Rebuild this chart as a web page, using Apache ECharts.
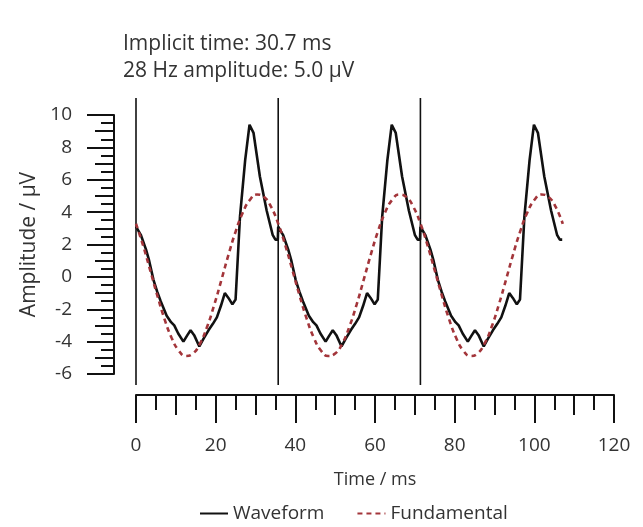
<!DOCTYPE html>
<html>
<head>
<meta charset="utf-8">
<script src="https://cdn.jsdelivr.net/npm/echarts@6/dist/echarts.min.js"></script>
<style>html,body{margin:0;padding:0;background:#fff;}#c{width:643px;height:527px;}</style>
</head>
<body>
<div id="c"></div>
<script>
// Titles
var titleLines = ['Implicit time: 30.7 ms', '28 Hz amplitude: 5.0 \u00b5V'];
var xName = 'Time / ms';
var yName = 'Amplitude / \u00b5V';
var seriesNames = ['Waveform', 'Fundamental'];

// Vertical period markers (ms)
var markerTimes = [0, 35.7, 71.4];

// Waveform [time ms, amplitude uV] — three tiled cycles
var waveform = [
  [0.0, 3.1], [1.2, 2.6], [2.5, 1.7], [3.3, 1.0], [4.4, -0.2], [5.3, -0.9], [6.2, -1.5], [7.7, -2.4], [8.8, -2.8], [9.6, -3.0], [10.6, -3.5], [11.9, -4.0], [12.9, -3.6], [13.7, -3.3], [14.6, -3.6], [15.9, -4.3], [17.0, -3.8], [18.2, -3.3], [19.3, -2.9], [20.3, -2.5], [21.3, -1.8], [22.3, -1.0], [23.2, -1.3], [24.2, -1.7], [25.0, -1.4], [26.1, 3.7], [27.4, 7.2], [28.5, 9.4], [29.5, 8.9], [31.1, 6.2], [32.8, 4.1], [34.3, 2.6], [35.0, 2.3], [35.6, 2.3],
  [35.7, 3.1], [36.9, 2.6], [38.2, 1.7], [39.0, 1.0], [40.1, -0.2], [41.0, -0.9], [41.9, -1.5], [43.4, -2.4], [44.5, -2.8], [45.3, -3.0], [46.3, -3.5], [47.6, -4.0], [48.6, -3.6], [49.4, -3.3], [50.3, -3.6], [51.6, -4.3], [52.7, -3.8], [53.9, -3.3], [55.0, -2.9], [56.0, -2.5], [57.0, -1.8], [58.0, -1.0], [58.9, -1.3], [59.9, -1.7], [60.7, -1.4], [61.8, 3.7], [63.1, 7.2], [64.2, 9.4], [65.2, 8.9], [66.8, 6.2], [68.5, 4.1], [70.0, 2.6], [70.7, 2.3], [71.3, 2.3],
  [71.4, 3.1], [72.6, 2.6], [73.9, 1.7], [74.7, 1.0], [75.8, -0.2], [76.7, -0.9], [77.6, -1.5], [79.1, -2.4], [80.2, -2.8], [81.0, -3.0], [82.0, -3.5], [83.3, -4.0], [84.3, -3.6], [85.1, -3.3], [86.0, -3.6], [87.3, -4.3], [88.4, -3.8], [89.6, -3.3], [90.7, -2.9], [91.7, -2.5], [92.7, -1.8], [93.7, -1.0], [94.6, -1.3], [95.6, -1.7], [96.4, -1.4], [97.5, 3.7], [98.8, 7.2], [99.9, 9.4], [100.9, 8.9], [102.5, 6.2], [104.2, 4.1], [105.7, 2.6], [106.4, 2.3], [107.0, 2.3]
];

// Fundamental (28 Hz component) [time ms, amplitude uV]
var fundamental = [
  [0.00, 3.28], [1.79, 1.93], [3.57, 0.40], [5.36, -1.16], [7.14, -2.59], [8.93, -3.76], [10.71, -4.55], [12.50, -4.89], [14.29, -4.74], [16.07, -4.12], [17.86, -3.08], [19.64, -1.73], [21.43, -0.20], [23.21, 1.36], [25.00, 2.79], [26.79, 3.96], [28.57, 4.75], [30.36, 5.09], [32.14, 4.94], [33.93, 4.32],
  [35.71, 3.28], [37.50, 1.93], [39.29, 0.40], [41.07, -1.16], [42.86, -2.59], [44.64, -3.76], [46.43, -4.55], [48.21, -4.89], [50.00, -4.74], [51.79, -4.12], [53.57, -3.08], [55.36, -1.73], [57.14, -0.20], [58.93, 1.36], [60.71, 2.79], [62.50, 3.96], [64.29, 4.75], [66.07, 5.09], [67.86, 4.94], [69.64, 4.32],
  [71.43, 3.28], [73.21, 1.93], [75.00, 0.40], [76.79, -1.16], [78.57, -2.59], [80.36, -3.76], [82.14, -4.55], [83.93, -4.89], [85.71, -4.74], [87.50, -4.12], [89.29, -3.08], [91.07, -1.73], [92.86, -0.20], [94.64, 1.36], [96.43, 2.79], [98.21, 3.96], [100.00, 4.75], [101.79, 5.09], [103.57, 4.94], [105.36, 4.32], [107.14, 3.28]
];

var FONT = 'Open Sans';
var TXT = '#333';
var AX = '#111';
var RED = '#a3353a';

var chart = echarts.init(document.getElementById('c'), null, {renderer: 'canvas'});

var markerSeries = markerTimes.map(function (t) {
  return {
    type: 'line', xAxisIndex: 2, yAxisIndex: 2, symbol: 'none', silent: true,
    lineStyle: {color: AX, width: 1.6}, data: [[t, 0], [t, 1]], z: 1
  };
});

chart.setOption({
  animation: false,
  backgroundColor: '#fff',
  textStyle: {fontFamily: FONT},
  title: {
    text: titleLines.join('\n'),
    left: 118, top: 26,
    textStyle: {fontFamily: FONT, fontSize: 21, fontWeight: 'normal', color: TXT, lineHeight: 27}
  },
  legend: {
    data: seriesNames,
    left: 194, top: 499,
    itemWidth: 28, itemHeight: 14, itemGap: 32,
    itemStyle: {color: 'transparent', borderWidth: 0},
    textStyle: {fontFamily: FONT, fontSize: 19, color: TXT}
  },
  grid: [
    {left: 136, right: 29, top: 115, height: 259},
    {left: 136, right: 29, top: 98, height: 287}
  ],
  xAxis: [
    {
      gridIndex: 0, type: 'value', min: 0, max: 120, interval: 20,
      position: 'bottom', offset: 21,
      name: xName, nameLocation: 'middle', nameGap: 76,
      nameTextStyle: {fontFamily: FONT, fontSize: 18, color: TXT},
      axisLine: {show: true, onZero: false, lineStyle: {color: AX, width: 2}},
      axisTick: {show: true, inside: false, length: 28, lineStyle: {color: AX, width: 2}},
      minorTick: {show: true, splitNumber: 4, length: 15, lineStyle: {color: AX, width: 2}},
      axisLabel: {fontFamily: FONT, fontSize: 19, color: TXT, margin: 41},
      splitLine: {show: false}, minorSplitLine: {show: false}
    },
    {
      gridIndex: 0, type: 'value', min: 0, max: 120, interval: 10,
      position: 'bottom', offset: 21,
      axisLine: {show: false, onZero: false},
      axisTick: {show: true, inside: false, length: 20, lineStyle: {color: AX, width: 2}},
      axisLabel: {show: false}, splitLine: {show: false}
    },
    {
      gridIndex: 1, type: 'value', min: 0, max: 120, show: false
    }
  ],
  yAxis: [
    {
      gridIndex: 0, type: 'value', min: -6, max: 10, interval: 2,
      position: 'left', offset: 22,
      name: yName, nameLocation: 'middle', nameGap: 74,
      nameTextStyle: {fontFamily: FONT, fontSize: 21, color: TXT},
      axisLine: {show: true, onZero: false, lineStyle: {color: AX, width: 2}},
      axisTick: {show: true, inside: false, length: 27, lineStyle: {color: AX, width: 2}},
      minorTick: {show: true, splitNumber: 4, length: 13, lineStyle: {color: AX, width: 2}},
      axisLabel: {fontFamily: FONT, fontSize: 19, color: TXT, margin: 42},
      splitLine: {show: false}, minorSplitLine: {show: false}
    },
    {
      gridIndex: 0, type: 'value', min: -6, max: 10, interval: 1,
      position: 'left', offset: 22,
      axisLine: {show: false, onZero: false},
      axisTick: {show: true, inside: false, length: 19, lineStyle: {color: AX, width: 2}},
      axisLabel: {show: false}, splitLine: {show: false}
    },
    {
      gridIndex: 1, type: 'value', min: 0, max: 1, show: false
    }
  ],
  series: [
    {
      name: seriesNames[0], type: 'line', xAxisIndex: 0, yAxisIndex: 0,
      symbol: 'none', data: waveform, z: 3,
      lineStyle: {color: '#111', width: 2.6}, itemStyle: {color: '#111'}
    },
    {
      name: seriesNames[1], type: 'line', xAxisIndex: 0, yAxisIndex: 0,
      symbol: 'none', smooth: true, data: fundamental, z: 4,
      lineStyle: {color: RED, width: 2.6, type: [5, 4]}, itemStyle: {color: RED}
    }
  ].concat(markerSeries)
});
</script>
</body>
</html>
